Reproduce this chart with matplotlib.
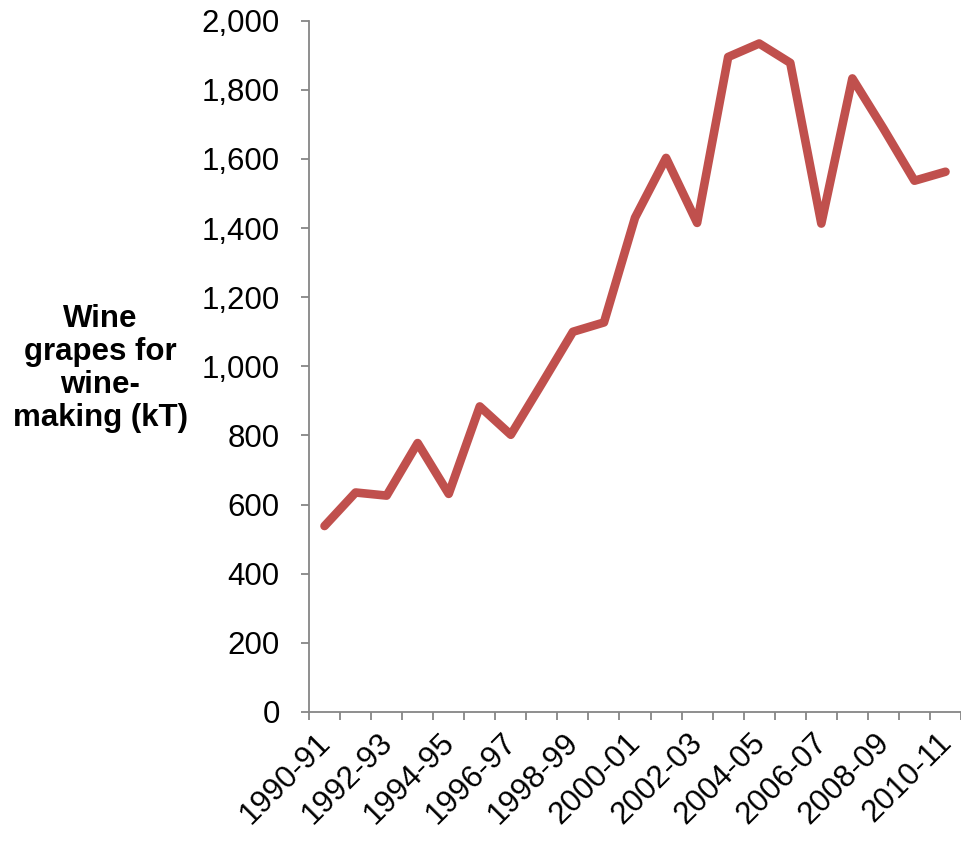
import matplotlib
matplotlib.use("Agg")
import matplotlib.pyplot as plt
from matplotlib.ticker import FuncFormatter, FixedLocator
import numpy as np

plt.rcParams['font.family'] = ['Liberation Sans', 'DejaVu Sans']

years = ["1990-91", "1991-92", "1992-93", "1993-94", "1994-95", "1995-96",
         "1996-97", "1997-98", "1998-99", "1999-00", "2000-01", "2001-02",
         "2002-03", "2003-04", "2004-05", "2005-06", "2006-07", "2007-08",
         "2008-09", "2009-10", "2010-11"]
grapes_kt = [538, 635, 626, 778, 631, 884, 802, 950, 1100, 1127, 1430, 1603,
             1415, 1895, 1934, 1878, 1413, 1833, 1688, 1537, 1563]
y_label = "Wine\ngrapes for\nwine-\nmaking (kT)"

FS = 22.5
fig = plt.figure(figsize=(9.62, 8.48), dpi=100)
ax = fig.add_axes([0.3212, 0.1604, 0.6778, 0.8152])

x = np.arange(len(years))
ax.plot(x, grapes_kt, color="#C0504D", lw=6.2, solid_joinstyle='round',
        solid_capstyle='round', clip_on=False)

ax.set_xlim(-0.5, len(years) - 0.5)
ax.set_ylim(0, 2000)

axis_color = "#868686"
for s in ['top', 'right']:
    ax.spines[s].set_visible(False)
for s in ['left', 'bottom']:
    ax.spines[s].set_color(axis_color)
    ax.spines[s].set_linewidth(1.3)

ax.set_yticks(np.arange(0, 2001, 200))
ax.yaxis.set_major_formatter(FuncFormatter(lambda v, p: f"{int(v):,}"))
ax.tick_params(axis='y', direction='out', length=6, width=1.3, color=axis_color,
               labelsize=FS, pad=15)

# major x ticks at category boundaries, labels at category centres (minor)
ax.xaxis.set_major_locator(FixedLocator(np.arange(-0.5, len(years) - 0.4, 1.0)))
ax.set_xticklabels([])
ax.tick_params(axis='x', which='major', direction='out', length=6, width=1.3,
               color=axis_color)
label_idx = list(range(0, len(years), 2))
ax.set_xticks([i - 0.3 for i in label_idx], [years[i] for i in label_idx], minor=True)
ax.tick_params(axis='x', which='minor', length=0, labelsize=FS, pad=11)
for lbl in ax.get_xticklabels(minor=True):
    lbl.set_rotation(45)
    lbl.set_ha('right')
    lbl.set_va('top')
    lbl.set_rotation_mode('anchor')

fig.text(0.104, 0.566, y_label, ha='center', va='center', fontsize=FS,
         fontweight='bold', linespacing=1.13)

fig.savefig("out.png", dpi=100)
